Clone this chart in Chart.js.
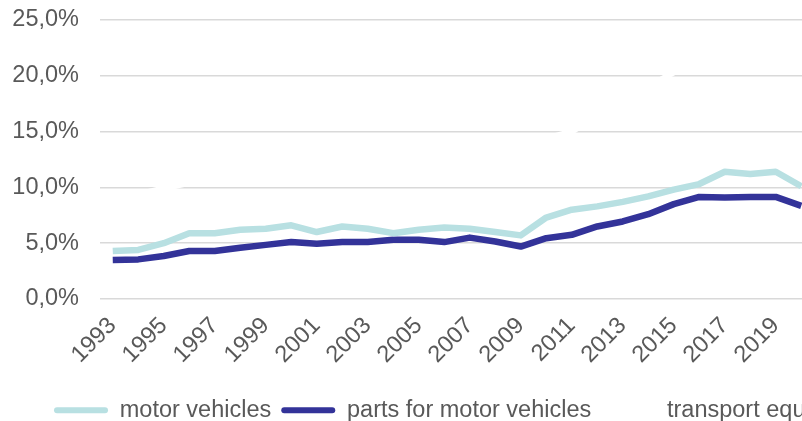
<!DOCTYPE html>
<html>
<head>
<meta charset="utf-8">
<script src="https://cdn.jsdelivr.net/npm/chart.js@4"></script>
<style>
  body { margin: 0; background: #fff; }
  #wrap { width: 802px; height: 421px; overflow: hidden; position: relative; }
  #canvas { position: absolute; left: 0; top: 0; }
</style>
</head>
<body>
<div id="wrap"><canvas id="canvas" width="930" height="432"></canvas></div>
<script>
// years on the x axis
var years = [1993,1994,1995,1996,1997,1998,1999,2000,2001,2002,2003,2004,2005,2006,
             2007,2008,2009,2010,2011,2012,2013,2014,2015,2016,2017,2018,2019,2020];

// shares in %
var motorVehicles = [4.3,4.4,5.0,5.9,5.9,6.2,6.3,6.6,6.0,6.5,6.3,5.9,6.2,6.4,
                     6.3,6.0,5.7,7.3,8.0,8.3,8.7,9.2,9.8,10.3,11.4,11.2,11.4,10.1];
var partsMotorVehicles = [3.5,3.55,3.85,4.3,4.3,4.6,4.85,5.1,4.95,5.1,5.1,5.3,5.3,5.1,
                          5.5,5.15,4.7,5.45,5.75,6.5,6.95,7.6,8.5,9.15,9.1,9.15,9.15,8.35];
var transportEq = [9.0,9.4,9.9,10.4,10.9,11.3,11.8,12.4,12.5,12.8,13.1,13.3,13.6,13.9,
                   14.2,14.5,14.6,14.4,15.0,16.4,17.6,19.0,20.3,21.6,22.6,23.3,23.8,23.2];

var yTicks = [0, 5, 10, 15, 20, 25];

const ctx = document.getElementById('canvas');

new Chart(ctx, {
  type: 'line',
  data: {
    labels: years,
    datasets: [{
      label: 'motor vehicles',
      data: motorVehicles,
      borderColor: '#b8e0e2',
      backgroundColor: '#b8e0e2',
      borderWidth: 6.5
    }, {
      label: 'parts for motor vehicles',
      data: partsMotorVehicles,
      borderColor: '#333399',
      backgroundColor: '#333399',
      borderWidth: 6.5
    }, {
      label: 'transport equipment',
      data: transportEq,
      borderColor: '#ffffff',
      backgroundColor: '#ffffff',
      borderWidth: 6
    }]
  },
  options: {
    responsive: false,
    animation: false,
    layout: { padding: { left: 0, right: 0, top: 20, bottom: 0 } },
    elements: {
      point: { radius: 0 },
      line: { tension: 0, borderJoinStyle: 'round', borderCapStyle: 'butt' }
    },
    plugins: {
      tooltip: { enabled: false },
      legend: {
        position: 'bottom',
        align: 'center',
        labels: {
          boxWidth: 54,
          boxHeight: 6,
          padding: 10,
          color: '#595959',
          font: { family: 'Liberation Sans, Arial, sans-serif', size: 23.5 },
          useBorderRadius: true,
          borderRadius: 3,
          generateLabels: function (chart) {
            var items = Chart.defaults.plugins.legend.labels.generateLabels(chart);
            items.forEach(function (it) { it.lineWidth = 0; });
            return items;
          }
        }
      }
    },
    scales: {
      x: {
        offset: true,
        grid: { display: false },
        border: { display: false },
        afterFit: function (s) { s.height = 89.5; },
        ticks: {
          autoSkip: false,
          maxRotation: 45,
          minRotation: 45,
          padding: 5,
          color: '#595959',
          font: { family: 'Liberation Sans, Arial, sans-serif', size: 23.5 },
          callback: function (v, i) { return i % 2 === 0 ? years[i] : ''; }
        }
      },
      y: {
        min: 0,
        max: 25,
        afterFit: function (s) { s.width = 100; s.paddingTop = 0; s.paddingBottom = 0; },
        afterBuildTicks: function (s) { s.ticks = yTicks.map(function (v) { return { value: v }; }); },
        grid: { color: '#d9d9d9', lineWidth: 1.5, drawTicks: false },
        border: { display: false },
        ticks: {
          padding: 21,
          color: '#595959',
          font: { family: 'Liberation Sans, Arial, sans-serif', size: 23.5 },
          callback: function (v) { return v.toFixed(1).replace('.', ',') + '%'; }
        }
      },
      y2: {
        position: 'right',
        display: true,
        afterFit: function (s) { s.width = 116; s.paddingTop = 0; s.paddingBottom = 0; },
        grid: { display: false },
        border: { display: false },
        ticks: { display: false }
      }
    }
  }
});
</script>
</body>
</html>
